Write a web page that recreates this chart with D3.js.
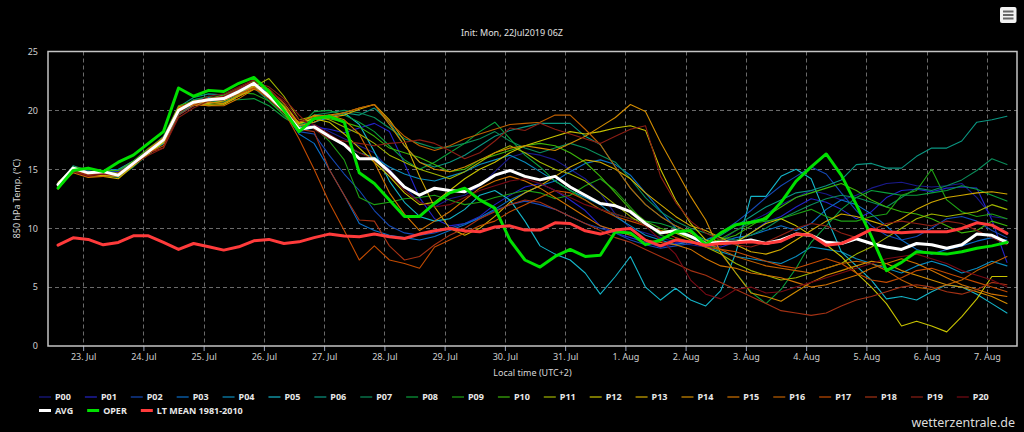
<!DOCTYPE html>
<html>
<head>
<meta charset="utf-8">
<script src="https://cdn.jsdelivr.net/npm/d3@7"></script>
<style>
  body { margin: 0; background: #000; }
  svg { display: block; }
</style>
</head>
<body>
<script>
// 850 hPa temperature, ensemble run of 22 Jul 2019 06Z, one value every 6 hours (local time UTC+2)
const pointStart = Date.UTC(2019, 6, 22, 14);
const pointInterval = 6 * 3600 * 1000;

const p00 = [13.8,15.2,14.8,14.6,14.4,15.4,16.4,17.5,20.2,20.6,20.7,21.2,21.8,22.3,21.0,19.8,
  18.5,18.8,18.2,17.6,17.0,16.4,15.0,13.5,12.2,11.8,12.5,12.8,13.6,14.8,16.0,16.4,
  16.2,15.8,15.0,14.2,13.0,11.2,10.0,9.6,9.2,8.8,8.6,8.4,8.9,9.8,10.6,11.2,
  12.0,12.6,13.2,12.9,12.4,12.8,13.4,13.8,13.9,13.6,13.5,13.6,13.8,12.6,11.0,10.8];
const p01 = [13.6,15.1,14.7,14.9,14.8,15.6,16.6,17.6,20.1,20.5,20.8,21.1,21.7,22.4,21.4,20.2,
  18.8,18.6,18.4,18.1,18.5,18.9,18.2,15.5,12.6,10.8,10.2,10.4,11.0,12.0,12.8,13.5,
  13.8,13.2,12.4,11.5,10.2,9.6,9.2,8.8,8.4,8.7,8.9,8.5,8.4,8.8,9.6,10.5,
  11.0,11.8,12.5,12.2,11.6,10.8,11.4,12.6,13.2,13.3,13.1,13.4,13.5,13.4,10.7,7.1];
const p02 = [13.5,14.9,14.5,14.7,14.7,15.3,16.3,17.3,19.8,20.5,21.0,20.9,21.5,22.1,21.1,20.0,
  18.2,18.0,16.2,14.6,13.2,11.5,10.2,9.6,9.4,9.6,10.0,10.4,10.8,11.5,12.0,12.3,
  12.0,11.6,11.0,10.4,10.0,9.6,9.0,8.6,8.3,8.5,8.7,9.0,9.6,10.5,11.5,12.6,
  13.6,14.4,15.2,14.6,13.0,11.5,10.2,9.4,9.0,9.3,10.0,10.8,11.0,10.6,9.8,9.2];
const p03 = [13.7,15.0,14.6,14.8,14.9,15.6,16.4,17.2,19.6,20.4,20.6,20.8,21.4,22.0,21.0,19.9,
  18.0,17.2,15.0,12.8,10.4,9.8,9.4,9.2,9.0,9.3,9.8,10.3,10.9,11.6,12.4,13.0,
  13.6,14.0,14.8,15.5,15.8,15.4,14.5,13.0,11.5,10.0,9.2,8.6,8.8,9.2,9.4,9.8,
  10.2,9.8,10.4,11.6,12.4,12.0,11.2,10.2,9.0,8.2,7.8,8.2,8.5,8.9,9.2,9.0];
const p04 = [13.5,14.8,14.4,14.9,15.0,15.7,16.6,17.5,20.0,20.9,21.1,21.0,21.5,22.0,21.3,20.1,
  18.3,18.5,17.8,17.0,16.4,16.0,15.2,14.6,14.2,14.0,14.4,14.8,15.4,15.8,16.2,15.6,
  14.8,14.0,13.2,12.6,12.0,11.0,10.2,9.4,9.0,8.6,8.9,8.4,8.0,7.6,7.4,7.2,
  7.0,7.6,8.4,8.2,8.0,7.4,7.0,6.6,6.2,6.8,7.2,6.8,6.2,6.6,7.2,6.8];
const p05 = [13.6,15.0,14.6,14.5,14.4,15.3,16.3,17.2,19.7,20.5,20.8,20.9,21.4,22.0,21.2,20.0,
  18.6,19.0,19.4,19.8,18.8,16.5,14.0,12.2,11.0,10.6,10.8,11.6,12.8,13.2,12.4,10.6,
  8.5,7.8,7.3,6.2,4.4,5.9,7.6,5.0,3.9,4.9,3.9,3.4,4.7,7.9,12.7,12.7,
  14.4,15.0,14.2,11.0,8.0,6.8,5.6,4.0,4.2,3.9,4.6,5.2,5.0,4.4,3.6,2.8];
const p06 = [13.4,15.3,14.9,14.6,14.5,15.5,16.7,17.8,20.3,21.1,21.4,21.3,21.7,22.3,21.5,20.3,
  18.7,19.2,19.5,19.8,19.6,20.2,19.0,17.0,15.6,15.2,15.6,16.2,17.0,17.8,18.3,18.6,
  18.9,18.9,18.9,17.8,17.1,15.2,13.4,12.0,11.0,10.2,9.6,9.0,9.4,10.2,11.0,11.8,
  12.4,13.0,13.2,13.6,14.1,15.4,15.5,15.1,15.1,16.1,16.8,16.8,17.4,19.0,19.2,19.5];
const p07 = [13.6,15.0,14.5,14.5,14.3,15.2,16.3,17.3,19.7,20.6,20.8,20.7,21.3,21.9,20.8,19.6,
  18.4,19.6,19.8,20.0,19.8,19.4,18.5,17.6,17.2,16.8,16.9,17.2,17.6,18.2,17.4,16.8,
  16.4,16.8,17.2,16.8,16.2,15.6,14.2,12.6,11.4,10.6,10.0,9.6,9.2,9.0,9.4,10.0,
  10.8,11.4,12.0,12.5,12.8,12.6,12.2,11.8,12.6,13.4,13.2,13.6,14.1,14.9,15.9,15.4];
const p08 = [13.7,15.1,14.7,14.7,14.6,15.4,16.5,17.5,19.9,20.9,21.2,20.9,20.9,21.0,20.4,19.4,
  18.6,19.9,20.0,19.6,19.0,18.2,17.0,15.8,15.0,15.6,16.4,17.2,18.2,19.0,17.6,16.2,
  15.2,14.0,13.2,12.4,11.6,11.2,10.8,10.6,10.4,10.0,9.4,8.8,8.0,6.2,4.6,3.6,
  4.8,6.6,8.8,10.2,11.6,12.6,13.2,13.0,12.8,12.8,13.0,13.2,13.6,13.3,12.8,12.3];
const p09 = [13.5,14.9,14.6,14.8,14.7,15.6,16.5,17.4,20.1,20.7,20.9,21.1,21.5,21.4,20.8,19.6,
  18.3,18.6,17.4,15.8,12.6,12.0,12.2,12.5,12.6,12.8,12.4,12.0,12.2,12.6,12.9,13.2,
  13.0,12.5,12.8,13.6,14.2,13.2,11.8,10.4,9.4,9.0,8.8,8.6,9.1,9.8,10.4,10.6,
  10.8,11.2,11.6,11.0,10.6,10.6,11.0,11.2,12.8,13.2,15.0,12.4,11.4,11.0,11.2,10.8];
const p10 = [13.8,15.2,15.0,14.9,14.9,15.7,16.8,17.7,20.4,20.8,21.0,21.3,21.9,22.5,21.6,20.4,
  18.8,19.4,19.3,19.0,18.6,17.8,16.8,16.4,16.0,15.4,14.8,15.0,15.8,16.2,16.6,17.0,
  17.2,17.0,16.4,15.6,14.4,13.0,11.6,10.6,10.0,9.6,9.2,8.8,9.0,9.4,10.2,11.0,
  11.8,12.6,13.0,13.4,13.8,13.2,12.4,11.8,11.4,11.2,10.8,10.2,9.6,9.8,10.6,10.2];
const p11 = [13.9,15.0,14.7,14.6,14.6,15.4,16.4,17.3,19.8,20.6,20.5,20.6,21.3,22.0,22.7,21.2,
  19.2,19.5,19.2,18.6,18.0,17.2,16.2,15.6,15.0,14.6,14.2,14.8,15.6,16.4,17.0,16.4,
  15.6,15.0,14.6,14.0,13.0,12.0,11.0,10.2,9.8,9.6,9.0,8.4,7.8,7.0,6.4,6.0,
  5.6,5.8,6.2,6.6,7.0,7.8,8.4,9.2,10.0,10.8,11.2,11.0,11.2,11.4,12.0,11.6];
const p12 = [13.6,14.9,14.4,14.5,14.4,15.3,16.3,17.3,20.0,20.5,20.4,20.5,21.2,21.8,21.5,20.3,
  18.9,19.3,19.0,18.0,16.8,15.6,14.4,13.0,12.0,12.2,13.2,14.2,15.0,15.6,16.4,17.0,
  17.4,17.8,18.2,18.0,18.2,18.5,18.7,18.3,15.0,12.4,10.4,9.0,8.6,8.8,9.6,10.4,
  10.8,10.2,9.4,8.6,7.6,6.2,5.0,3.6,1.7,2.1,1.7,1.2,2.5,4.0,5.9,5.9];
const p13 = [13.7,15.1,14.5,14.4,14.2,15.3,16.4,17.5,20.2,20.4,20.6,20.8,21.5,22.1,21.8,20.6,
  18.9,19.6,19.4,19.6,20.1,20.5,19.2,17.4,14.4,11.8,10.0,9.4,10.0,11.0,12.2,13.0,
  13.6,14.4,15.2,15.8,15.6,15.0,14.2,13.0,12.0,11.0,10.2,9.8,9.2,8.6,8.0,7.8,
  8.2,9.0,9.8,10.6,11.2,11.0,10.6,10.2,10.8,11.6,12.2,12.6,12.8,13.0,13.1,12.9];
const p14 = [13.6,14.8,14.4,14.6,14.5,15.5,16.6,17.6,20.3,20.6,20.7,20.6,21.2,22.0,21.4,20.2,
  18.7,19.0,19.6,19.8,20.2,20.5,18.8,17.0,15.6,15.0,14.8,15.2,15.8,16.4,16.8,17.0,
  16.8,16.6,17.2,17.8,18.6,19.4,20.5,19.9,17.3,15.0,12.7,10.7,7.9,6.2,4.5,4.2,
  3.8,4.6,5.4,6.0,6.4,6.8,7.2,7.0,6.4,6.0,5.6,5.2,5.0,4.6,4.2,3.6];
const p15 = [13.5,14.7,14.3,14.4,14.5,15.4,16.7,17.7,20.1,20.5,20.4,20.4,21.0,21.8,21.3,20.1,
  19.0,19.5,19.6,19.2,18.0,15.6,13.0,11.2,9.8,10.6,11.4,12.4,13.4,14.0,14.4,14.0,
  13.4,12.6,11.8,11.0,10.2,9.8,9.4,9.0,8.8,8.6,8.2,7.4,6.8,6.6,6.2,6.0,
  5.8,5.4,5.0,5.2,5.6,6.0,6.6,7.0,7.4,7.0,6.4,5.8,5.2,4.8,4.4,4.2];
const p16 = [13.8,15.0,14.6,14.6,14.4,15.4,16.5,17.6,20.2,20.8,21.0,21.1,21.6,22.2,21.0,19.8,
  18.4,19.2,19.5,19.8,20.2,20.5,19.0,17.8,17.0,16.6,17.0,17.6,18.0,18.4,18.8,18.9,
  19.0,19.6,19.6,18.4,17.1,15.2,13.4,12.0,11.0,10.2,9.6,8.8,8.2,7.6,7.2,6.8,
  6.6,6.4,6.2,6.6,7.0,7.2,7.0,6.4,5.6,5.0,4.8,5.2,5.6,6.4,7.0,7.6];
const p17 = [13.3,14.9,14.5,14.6,14.7,15.5,16.4,17.0,20.0,20.7,20.8,20.9,21.4,21.9,21.0,19.9,
  17.6,15.0,12.2,9.8,7.3,8.5,7.3,7.0,6.6,8.4,9.0,9.6,10.2,10.6,11.4,12.0,
  12.6,13.2,13.0,12.4,11.6,11.0,10.6,10.2,9.8,9.2,8.8,8.4,8.2,8.0,7.6,7.2,
  6.8,6.6,7.0,7.4,7.0,6.2,5.6,5.4,5.8,6.4,6.6,6.2,5.8,5.4,5.0,4.6];
const p18 = [13.6,15.1,14.6,14.7,14.6,15.5,16.4,16.8,19.6,20.4,21.0,21.2,21.8,22.6,21.8,20.6,
  18.4,18.2,15.0,12.8,10.7,10.6,8.5,7.3,7.6,8.6,9.4,10.0,10.8,11.4,12.0,12.4,
  12.2,11.6,11.0,10.4,9.8,9.2,8.8,8.2,7.6,7.0,6.4,6.0,5.4,4.8,4.2,3.6,
  3.0,2.8,2.6,2.8,3.4,3.9,4.2,4.6,5.0,5.2,5.0,4.6,4.4,4.8,5.4,5.2];
const p19 = [13.5,14.9,14.5,14.6,14.6,15.4,16.2,16.8,19.4,20.2,20.8,21.2,21.9,22.4,22.0,21.0,
  19.6,18.4,17.6,17.4,17.2,17.0,17.2,17.3,17.5,17.2,16.6,15.9,16.4,17.4,18.5,18.3,
  18.9,18.4,18.0,17.6,17.2,17.8,18.4,18.7,14.4,12.2,10.6,9.6,9.0,8.6,8.4,8.8,
  9.4,10.0,10.4,10.2,9.6,9.2,9.8,10.4,10.6,10.4,10.2,10.6,10.4,9.8,9.2,8.6];
const p20 = [13.4,14.8,14.4,14.6,14.5,15.6,16.6,17.4,19.8,20.6,21.2,21.4,22.0,22.6,21.7,20.8,
  19.2,18.8,18.0,17.2,16.4,15.8,14.6,13.2,12.2,11.8,12.0,12.6,13.2,13.6,14.0,14.2,
  13.8,13.2,12.6,12.0,11.6,11.2,10.8,10.2,9.0,7.8,5.6,4.4,4.0,4.8,5.0,4.5,
  4.6,5.0,5.4,5.8,6.2,6.6,7.0,7.4,7.6,7.8,7.4,7.0,6.4,6.0,5.6,5.0];

const avg = [13.7,15.1,14.7,14.8,14.5,15.5,16.5,17.5,20.0,20.7,20.9,21.0,21.6,22.3,21.2,20.0,
  18.4,18.6,17.8,17.1,15.9,15.9,14.8,13.5,12.8,13.4,13.2,13.1,13.7,14.5,14.9,14.4,
  14.1,14.4,13.5,12.8,12.1,11.9,11.4,10.4,9.6,9.8,9.3,8.7,8.8,8.8,9.0,8.7,
  9.0,9.5,9.4,8.8,8.7,9.1,8.7,8.4,8.2,8.7,8.6,8.3,8.6,9.5,9.4,8.8];
const oper = [13.4,14.9,15.1,14.8,15.6,16.2,17.2,18.2,21.9,21.2,21.7,21.6,22.3,22.8,21.6,20.0,
  18.2,19.3,19.5,19.0,14.7,13.8,12.4,11.0,11.0,12.1,13.0,13.4,12.4,11.7,9.0,7.3,
  6.7,7.6,8.2,7.6,7.7,9.7,9.6,8.6,9.0,9.7,9.8,8.6,9.6,10.3,10.5,10.8,
  12.2,14.0,15.2,16.3,14.5,12.0,9.3,6.4,7.1,8.0,7.9,7.8,8.0,8.3,8.5,8.8];
const ltMean = [8.56,9.18,9.05,8.59,8.79,9.35,9.35,8.79,8.2,8.7,8.42,8.14,8.42,8.93,9.05,8.7,
  8.84,9.2,9.5,9.33,9.27,9.5,9.27,9.13,9.5,9.78,9.98,9.78,9.7,10.1,10.2,9.84,
  9.84,10.46,10.4,9.78,9.5,9.84,9.98,8.99,8.5,8.99,8.84,8.56,8.7,8.76,8.84,8.7,
  8.9,9.5,9.41,8.56,8.7,9.27,9.9,9.7,9.61,9.7,9.7,9.7,9.98,10.46,10.26,9.56];

const memberNames = ["P00","P01","P02","P03","P04","P05","P06","P07","P08","P09","P10",
  "P11","P12","P13","P14","P15","P16","P17","P18","P19","P20"];
const memberValues = [p00,p01,p02,p03,p04,p05,p06,p07,p08,p09,p10,p11,p12,p13,p14,p15,p16,p17,p18,p19,p20];
const yTicks = [0, 5, 10, 15, 20, 25];

// colours, blue -> green -> yellow -> red like the original
const memberColors = ["#1a1a8c","#2323c8","#1448b4","#0a6ec8","#0a8cbe","#14b4c8","#0a9682",
  "#0a8c5a","#0aa03c","#1ea014","#3cb40a","#a0b400","#c8c300","#d2aa00","#d28c00","#d27300",
  "#be5f00","#c34b00","#a53214","#8c1e14","#780a14"];

const W = 1024, H = 432;
const plot = {left: 48, right: 1017, top: 51.5, bottom: 346};
const font = "'Noto Sans', sans-serif";

const svg = d3.select("body").append("svg")
    .attr("width", W)
    .attr("height", H)
    .style("background", "#000")
    .attr("font-family", font);

const x = d3.scaleUtc()
    .domain([Date.UTC(2019, 6, 22, 10), Date.UTC(2019, 7, 7, 12)])
    .range([plot.left, plot.right]);
const y = d3.scaleLinear()
    .domain([0, 25])
    .range([plot.bottom, plot.top]);

const days = x.ticks(d3.utcDay.every(1));
const timeOf = i => new Date(pointStart + i * pointInterval);

// Title
svg.append("text")
    .attr("x", 512).attr("y", 36)
    .attr("text-anchor", "middle")
    .attr("font-size", 9)
    .attr("fill", "#e0e0e0")
    .text("Init: Mon, 22Jul2019 06Z");

// Grid
const grid = svg.append("g")
    .attr("stroke", "#6a6a6a")
    .attr("stroke-width", 1)
    .attr("stroke-dasharray", "4,3");
grid.selectAll(".vg").data(days).join("line")
    .attr("class", "vg")
    .attr("x1", d => Math.round(x(d)) + 0.5).attr("x2", d => Math.round(x(d)) + 0.5)
    .attr("y1", plot.top).attr("y2", plot.bottom);
grid.selectAll(".hg").data(yTicks.slice(1, -1)).join("line")
    .attr("class", "hg")
    .attr("x1", plot.left).attr("x2", plot.right)
    .attr("y1", d => Math.round(y(d)) + 0.5).attr("y2", d => Math.round(y(d)) + 0.5);

// Axes
const xAxis = svg.append("g")
    .attr("transform", "translate(0," + plot.bottom + ")")
    .call(d3.axisBottom(x).tickValues(days).tickFormat(d3.utcFormat("%-d. %b")).tickSize(5).tickPadding(3));
xAxis.select(".domain").remove();
xAxis.selectAll("line").attr("stroke", "#9aa4bb");
xAxis.selectAll("text").attr("fill", "#d0d0d0").attr("font-size", 9).attr("font-family", font);

const yAxis = svg.append("g")
    .attr("transform", "translate(" + plot.left + ",0)")
    .call(d3.axisLeft(y).tickValues(yTicks).tickSize(0).tickPadding(10));
yAxis.select(".domain").remove();
yAxis.selectAll("text").attr("fill", "#d0d0d0").attr("font-size", 9).attr("font-family", font);

// Axis titles
svg.append("text")
    .attr("x", (plot.left + plot.right) / 2).attr("y", 376)
    .attr("text-anchor", "middle")
    .attr("font-size", 9)
    .attr("fill", "#d8d8d8")
    .text("Local time (UTC+2)");
svg.append("text")
    .attr("transform", "translate(19.5," + (plot.top + plot.bottom) / 2 + ") rotate(-90)")
    .attr("text-anchor", "middle")
    .attr("font-size", 9)
    .attr("fill", "#d8d8d8")
    .text("850 hPa Temp. (°C)");

// Lines
svg.append("clipPath").attr("id", "clip")
    .append("rect")
    .attr("x", plot.left).attr("y", plot.top)
    .attr("width", plot.right - plot.left).attr("height", plot.bottom - plot.top);

const line = d3.line()
    .x((d, i) => x(timeOf(i)))
    .y(d => y(d));

const lines = svg.append("g").attr("clip-path", "url(#clip)")
    .attr("fill", "none")
    .attr("stroke-linejoin", "round")
    .attr("stroke-linecap", "round");

lines.selectAll(".member")
    .data(memberValues)
    .join("path")
    .attr("class", "member")
    .attr("d", d => line(d))
    .attr("stroke", (d, i) => memberColors[i])
    .attr("stroke-width", 1.1);

const mainSeries = [
    {name: "AVG", values: avg, color: "#ffffff"},
    {name: "OPER", values: oper, color: "#00e000"},
    {name: "LT MEAN 1981-2010", values: ltMean, color: "#ff3b3b"}
];
lines.selectAll(".main")
    .data(mainSeries)
    .join("path")
    .attr("class", "main")
    .attr("d", d => line(d.values))
    .attr("stroke", d => d.color)
    .attr("stroke-width", 3);

// Plot border
svg.append("rect")
    .attr("x", plot.left).attr("y", plot.top)
    .attr("width", plot.right - plot.left).attr("height", plot.bottom - plot.top)
    .attr("fill", "none")
    .attr("stroke", "#c4c4c4")
    .attr("stroke-width", 1.5);

// Legend
const legend = svg.append("g")
    .attr("font-size", 9)
    .attr("font-weight", "bold");

function legendRow(items, y0) {
    let lx = 39;
    items.forEach(it => {
        const g = legend.append("g").attr("transform", "translate(" + lx + "," + y0 + ")");
        g.append("line")
            .attr("x1", 0).attr("x2", 12)
            .attr("stroke", it.color)
            .attr("stroke-width", it.width);
        const t = g.append("text")
            .attr("x", 16).attr("y", 3.2)
            .attr("fill", "#e8e8e8")
            .text(it.name);
        lx += 16 + t.node().getComputedTextLength() + 14;
    });
}
legendRow(memberNames.map((n, i) => ({name: n, color: memberColors[i], width: 1.2})), 397);
legendRow(mainSeries.map(s => ({name: s.name, color: s.color, width: 3})), 410.5);

// Watermark
svg.append("text")
    .attr("x", 1015).attr("y", 427)
    .attr("text-anchor", "end")
    .attr("font-size", 12.5)
    .attr("fill", "#dcdcdc")
    .text("wetterzentrale.de");

// Menu button
const menu = svg.append("g").attr("transform", "translate(1000,7)");
menu.append("rect")
    .attr("width", 16.5).attr("height", 16)
    .attr("rx", 2)
    .attr("fill", "#f2f2f2");
menu.selectAll("line").data([4.5, 8, 11.5]).join("line")
    .attr("x1", 3).attr("x2", 13.5)
    .attr("y1", d => d).attr("y2", d => d)
    .attr("stroke", "#666")
    .attr("stroke-width", 2);
</script>
</body>
